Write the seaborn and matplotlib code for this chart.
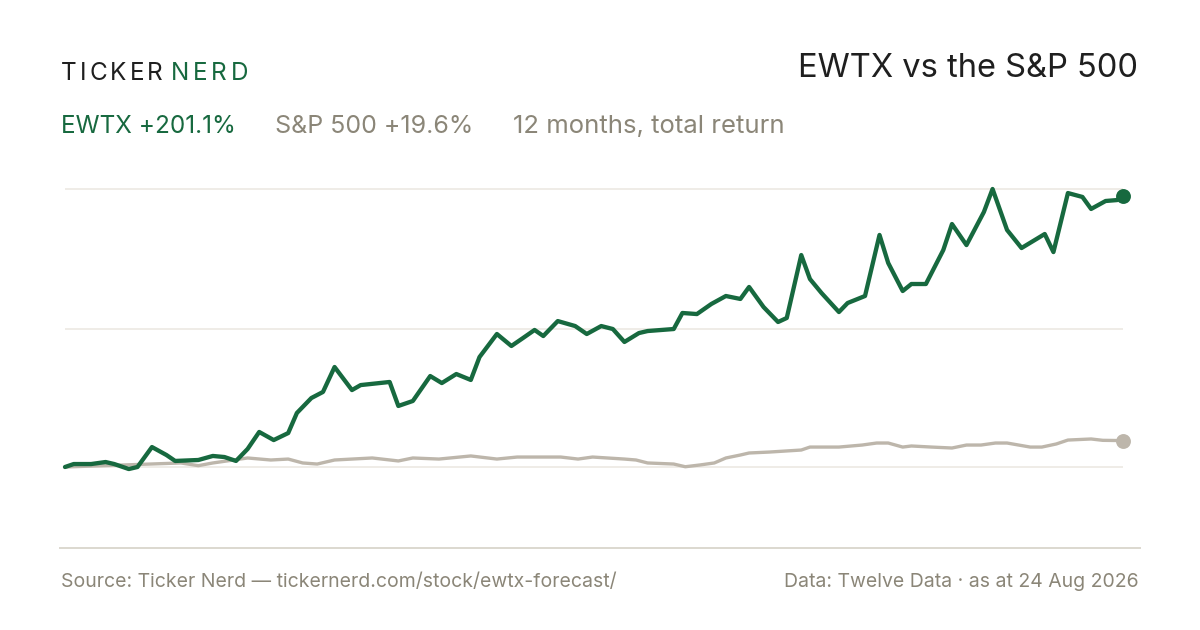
import numpy as np
import pandas as pd
import matplotlib
matplotlib.use("Agg")
import matplotlib.pyplot as plt
import seaborn as sns

# --- data (days since start, total return in %) ---
ewtx_days = [0, 3, 9, 14, 17, 22, 25, 30, 35, 38, 46, 51, 55, 59, 63, 67, 72, 77,
             80, 85, 89, 93, 99, 102, 112, 115, 120, 126, 130, 135, 140, 143, 149,
             154, 158, 162, 165, 170, 176, 180, 185, 189, 193, 198, 201, 210, 213,
             218, 223, 228, 233, 236, 241, 246, 249, 254, 257, 261, 267, 270, 276,
             281, 284, 289, 292, 297, 303, 306, 311, 317, 320, 325, 330, 338, 341,
             346, 351, 354, 359, 363, 365]
ewtx_ret = [0, 2.2, 2.2, 3.7, 2.2, -1.5, 0, 14.8, 8.9, 4.5, 5.2, 8.2, 7.4, 4.5,
            13.4, 26.0, 20.0, 25.2, 40.1, 51.2, 55.7, 74.2, 57.1, 60.8, 63.1, 45.3,
            49.0, 67.5, 62.3, 69.0, 64.6, 81.6, 98.7, 89.8, 95.7, 101.7, 97.2,
            108.3, 104.6, 98.7, 104.6, 102.4, 92.8, 99.4, 100.9, 102.4, 114.3,
            113.5, 121.0, 126.9, 124.7, 133.6, 118.7, 107.6, 110.6, 157.3, 139.5,
            129.1, 115.0, 121.7, 126.9, 172.2, 151.4, 130.6, 135.8, 135.8, 161.0,
            180.3, 164.7, 189.2, 206.3, 175.9, 162.5, 172.9, 159.5, 203.3, 200.4,
            191.5, 197.4, 198.1, 201.1]

spx_days = [0, 20, 40, 46, 51, 63, 71, 77, 82, 87, 93, 99, 106, 115, 120, 129,
            140, 149, 156, 164, 171, 177, 182, 193, 197, 201, 210, 214, 219, 224,
            228, 233, 236, 243, 254, 257, 267, 275, 280, 284, 289, 292, 299, 306,
            311, 316, 321, 325, 333, 337, 342, 346, 354, 358, 365]
spx_ret = [0, 1.5, 3.0, 1.0, 3.0, 6.7, 5.2, 5.9, 3.0, 2.2, 5.2, 5.9, 6.7, 4.5,
           6.7, 5.9, 8.2, 5.9, 7.4, 7.4, 7.4, 5.9, 7.4, 5.9, 5.2, 3.0, 2.2, 0.2,
           1.5, 3.0, 6.7, 8.9, 10.4, 11.1, 12.6, 14.8, 14.8, 16.3, 17.8, 17.8,
           14.8, 15.6, 14.8, 14.1, 16.3, 16.3, 17.8, 17.8, 14.8, 14.8, 17.1,
           20.0, 20.8, 19.8, 19.6]

grid_levels = [0, 102.4, 206.3]

title = "EWTX vs the S&P 500"
ewtx_label = "EWTX +201.1%"
spx_label = "S&P 500 +19.6%"
period_label = "12 months, total return"
source_text = "Source: Ticker Nerd \u2014 tickernerd.com/stock/ewtx-forecast/"
data_text = "Data: Twelve Data \u00b7 as at 24 Aug 2026"

GREEN = "#17693f"
SPX_GREY = "#bdb6ab"
MUTED = "#8b8678"
INK = "#1f1f1f"

sns.set_style("white")
plt.rcParams["font.family"] = ["Inter", "DejaVu Sans"]

W, H = 1200, 630
fig = plt.figure(figsize=(W / 100, H / 100), dpi=100)
fig.patch.set_facecolor("white")

# axes: bottom rule at 548 px, top at 170 px, from x=60 to 1140
ax = fig.add_axes([60 / W, (H - 548) / H, 1080 / W, (548 - 170) / H])

ewtx = pd.DataFrame({"day": ewtx_days, "ret": ewtx_ret})
spx = pd.DataFrame({"day": spx_days, "ret": spx_ret})

ax.hlines(grid_levels, 0, 365, color="#ece9e3", linewidth=1.2, zorder=0)

sns.lineplot(data=spx, x="day", y="ret", ax=ax, color=SPX_GREY, linewidth=2.4,
             zorder=2)
sns.lineplot(data=ewtx, x="day", y="ret", ax=ax, color=GREEN, linewidth=3.1,
             zorder=3)
sns.scatterplot(data=spx.tail(1), x="day", y="ret", ax=ax, color=SPX_GREY,
                s=115, linewidth=0, zorder=4)
sns.scatterplot(data=ewtx.tail(1), x="day", y="ret", ax=ax, color=GREEN,
                s=115, linewidth=0, zorder=5)

px_per_day = 1058 / 365
ax.set_xlim(-5 / px_per_day, 365 + 17 / px_per_day)
ax.set_ylim(-60.1, 220.4)
ax.set_xticks([])
ax.set_yticks([])
ax.set_xlabel("")
ax.set_ylabel("")
for side in ["top", "left", "right"]:
    ax.spines[side].set_visible(False)
ax.spines["bottom"].set_color("#dcd8cf")
ax.spines["bottom"].set_linewidth(1.4)

renderer = fig.canvas.get_renderer()


def tracked(word, x0, x1, y, **kw):
    """Draw a word letter by letter, spread to fill x0..x1 (pixels)."""
    parts = [fig.text(0, y / H, ch, va="baseline", ha="left", **kw) for ch in word]
    widths = [p.get_window_extent(renderer).width for p in parts]
    gap = (x1 - x0 - sum(widths)) / (len(word) - 1)
    x = x0
    for p, w in zip(parts, widths):
        p.set_x(x / W)
        x += w + gap


# logo
tracked("TICKER", 61, 163, H - 80, fontsize=17.5, color=INK)
tracked("NERD", 171, 248, H - 80, fontsize=17.5, color=GREEN)

# title
fig.text(1138 / W, (H - 77) / H, title, ha="right", va="baseline",
         fontsize=23.5, color=INK)

# subtitle
fig.text(61 / W, (H - 133) / H, ewtx_label, ha="left", va="baseline",
         fontsize=17.5, color=GREEN)
fig.text(275 / W, (H - 133) / H, spx_label, ha="left", va="baseline",
         fontsize=18, color=MUTED)
fig.text(513 / W, (H - 133) / H, period_label, ha="left", va="baseline",
         fontsize=18.5, color=MUTED)

# footer
fig.text(61 / W, (H - 587) / H, source_text, ha="left", va="baseline",
         fontsize=14, color=MUTED)
fig.text(1139 / W, (H - 587) / H, data_text, ha="right", va="baseline",
         fontsize=14, color=MUTED)

fig.savefig("out.png", dpi=100, facecolor="white")
